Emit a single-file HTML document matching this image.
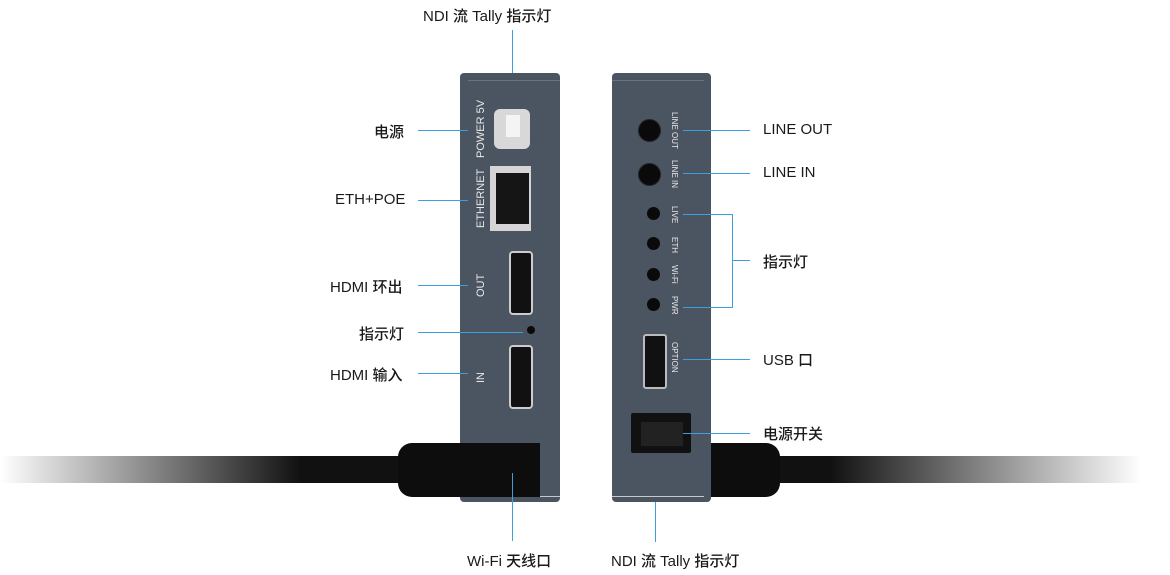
<!DOCTYPE html>
<html><head><meta charset="utf-8"><style>
body{margin:0;width:1170px;height:575px;background:#fff;position:relative;overflow:hidden;font-family:"Liberation Sans","Noto Sans CJK SC",sans-serif}
.a{position:absolute}
.t{position:absolute;font-size:15px;color:#1a1a1a;font-weight:500;white-space:nowrap}
.h{position:absolute;height:1px;background:#3d9fe0}
.v{position:absolute;width:1px;background:#3d9fe0}
.vt{position:absolute;color:#e8e8e8;font-size:8px;transform:rotate(90deg);transform-origin:left top;white-space:nowrap}
.vl{position:absolute;color:#e8e8e8;font-size:11px;transform:rotate(-90deg);transform-origin:left top;white-space:nowrap}
.hole{position:absolute;border-radius:50%;background:#0a0a0a}
.hdmi{position:absolute;width:20px;height:60px;border:2px solid #ccc;border-radius:4px;background:#111}
</style></head><body>
<div class="a" style="left:0;top:456px;width:400px;height:27px;background:linear-gradient(90deg,rgba(0,0,0,0),#111 300px,#111)"></div>
<div class="a" style="left:711px;top:456px;width:430px;height:27px;background:linear-gradient(90deg,#111,#111 120px,rgba(0,0,0,0))"></div>
<div class="a" style="left:700px;top:443px;width:80px;height:54px;background:#0d0d0d;border-radius:0 14px 14px 0"></div>
<div class="a" style="left:460px;top:73px;width:100px;height:429px;background:#4b5461;border-radius:4px"></div>
<div class="a" style="left:468px;top:80px;width:92px;height:415px;border-top:1px solid #6a7380;border-bottom:1px solid #c8c8c8"></div>
<div class="a" style="left:612px;top:73px;width:99px;height:429px;background:#4b5461;border-radius:4px"></div>
<div class="a" style="left:612px;top:80px;width:92px;height:415px;border-top:1px solid #6a7380;border-bottom:1px solid #c8c8c8"></div>
<div class="a" style="left:398px;top:443px;width:142px;height:54px;background:#0d0d0d;border-radius:14px 0 0 14px"></div>
<div class="a" style="left:494px;top:109px;width:36px;height:40px;background:#d8d8d8;border-radius:6px"></div>
<div class="a" style="left:506px;top:115px;width:14px;height:22px;background:#f4f4f4"></div>
<div class="a" style="left:490px;top:166px;width:41px;height:65px;background:#d5d5d5"></div>
<div class="a" style="left:496px;top:173px;width:33px;height:51px;background:#151515"></div>
<div class="hdmi" style="left:509px;top:251px"></div>
<div class="hdmi" style="left:509px;top:345px"></div>
<div class="hole" style="left:527px;top:326px;width:8px;height:8px"></div>
<div class="vl" style="left:475px;top:158px">POWER 5V</div>
<div class="vl" style="left:475px;top:228px">ETHERNET</div>
<div class="vl" style="left:475px;top:297px">OUT</div>
<div class="vl" style="left:475px;top:383px">IN</div>
<div class="hole" style="left:638px;top:119px;width:21px;height:21px;border:1px solid #222"></div>
<div class="hole" style="left:638px;top:163px;width:21px;height:21px;border:1px solid #222"></div>
<div class="hole" style="left:647px;top:207px;width:13px;height:13px"></div>
<div class="hole" style="left:647px;top:237px;width:13px;height:13px"></div>
<div class="hole" style="left:647px;top:268px;width:13px;height:13px"></div>
<div class="hole" style="left:647px;top:298px;width:13px;height:13px"></div>
<div class="a" style="left:643px;top:334px;width:20px;height:51px;border:2px solid #bbb;border-radius:3px;background:#111"></div>
<div class="a" style="left:631px;top:413px;width:60px;height:40px;background:#111;border-radius:2px"></div>
<div class="a" style="left:641px;top:422px;width:42px;height:24px;background:#222"></div>
<div class="vt" style="left:679px;top:112px">LINE OUT</div>
<div class="vt" style="left:679px;top:160px">LINE IN</div>
<div class="vt" style="left:679px;top:206px">LIVE</div>
<div class="vt" style="left:679px;top:237px">ETH</div>
<div class="vt" style="left:679px;top:265px">Wi-Fi</div>
<div class="vt" style="left:679px;top:296px">PWR</div>
<div class="vt" style="left:679px;top:342px">OPTION</div>
<div class="v" style="left:512px;top:30px;height:43px"></div>
<div class="h" style="left:418px;top:130px;width:50px"></div>
<div class="h" style="left:418px;top:200px;width:50px"></div>
<div class="h" style="left:418px;top:285px;width:50px"></div>
<div class="h" style="left:418px;top:332px;width:105px"></div>
<div class="h" style="left:418px;top:373px;width:50px"></div>
<div class="v" style="left:512px;top:473px;height:68px"></div>
<div class="h" style="left:683px;top:130px;width:67px"></div>
<div class="h" style="left:683px;top:173px;width:67px"></div>
<div class="h" style="left:683px;top:214px;width:50px"></div>
<div class="h" style="left:683px;top:307px;width:50px"></div>
<div class="v" style="left:732px;top:214px;height:94px"></div>
<div class="h" style="left:732px;top:260px;width:18px"></div>
<div class="h" style="left:683px;top:359px;width:67px"></div>
<div class="h" style="left:683px;top:433px;width:67px"></div>
<div class="v" style="left:655px;top:502px;height:40px"></div>
<div class="t" style="left:423px;top:5px">NDI 流 Tally 指示灯</div>
<div class="t" style="left:374px;top:121px">电源</div>
<div class="t" style="left:335px;top:191px">ETH+POE</div>
<div class="t" style="left:330px;top:276px">HDMI 环出</div>
<div class="t" style="left:359px;top:323px">指示灯</div>
<div class="t" style="left:330px;top:364px">HDMI 输入</div>
<div class="t" style="left:467px;top:550px">Wi-Fi 天线口</div>
<div class="t" style="left:611px;top:550px">NDI 流 Tally 指示灯</div>
<div class="t" style="left:763px;top:121px">LINE OUT</div>
<div class="t" style="left:763px;top:164px">LINE IN</div>
<div class="t" style="left:763px;top:251px">指示灯</div>
<div class="t" style="left:763px;top:349px">USB 口</div>
<div class="t" style="left:763px;top:423px">电源开关</div>
</body></html>
